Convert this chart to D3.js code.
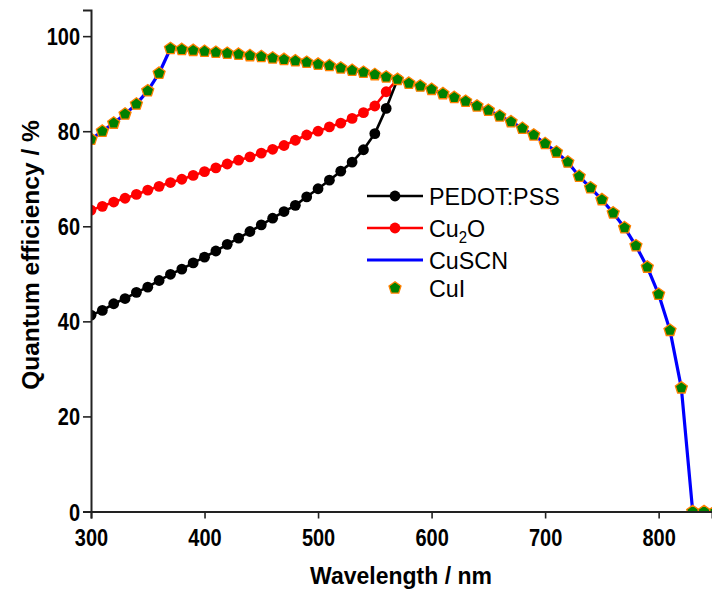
<!DOCTYPE html>
<html>
<head>
<meta charset="utf-8">
<script src="https://cdn.jsdelivr.net/npm/d3@7"></script>
<style>
  html, body { margin: 0; padding: 0; background: #fff; }
  svg { display: block; font-family: "Liberation Sans", Arial, sans-serif; }
</style>
</head>
<body>
<svg id="chart" width="712" height="590"></svg>
<script>
// Wavelengths (nm) for each dataset
const wlHTL = [300, 310, 320, 330, 340, 350, 360, 370, 380, 390, 400, 410, 420, 430,
  440, 450, 460, 470, 480, 490, 500, 510, 520, 530, 540, 550, 560, 570];
const wlFull = [300, 310, 320, 330, 340, 350, 360, 370, 380, 390, 400, 410, 420, 430,
  440, 450, 460, 470, 480, 490, 500, 510, 520, 530, 540, 550, 560, 570, 580, 590,
  600, 610, 620, 630, 640, 650, 660, 670, 680, 690, 700, 710, 720, 730, 740, 750,
  760, 770, 780, 790, 800, 810, 820, 830, 840, 850];

// Quantum efficiency (%) per hole-transport layer
const qePedot = [41.3, 42.3, 43.7, 44.8, 46.1, 47.2, 48.6, 49.9, 51.0, 52.3, 53.5, 54.8,
  56.2, 57.5, 58.9, 60.3, 61.7, 63.1, 64.4, 66.2, 67.9, 69.7, 71.6, 73.5, 76.1, 79.5,
  84.8, 90.9];
const qeCu2O = [63.4, 64.2, 65.1, 65.9, 66.7, 67.6, 68.4, 69.2, 69.9, 70.7, 71.5, 72.3,
  73.1, 73.9, 74.6, 75.4, 76.2, 77.0, 78.1, 79.2, 80.0, 80.9, 81.7, 82.7, 83.9, 85.3,
  88.3, 90.9];
const qeCuSCN = [78.3, 80.0, 81.7, 83.6, 85.7, 88.5, 92.2, 97.4, 97.2, 97.0, 96.8, 96.6,
  96.4, 96.2, 95.9, 95.7, 95.4, 95.1, 94.8, 94.5, 94.1, 93.8, 93.3, 92.8, 92.4, 91.9,
  91.4, 90.9, 90.1, 89.5, 88.8, 87.9, 87.1, 86.3, 85.3, 84.4, 83.2, 82.0, 80.6, 79.2,
  77.4, 75.6, 73.5, 70.5, 68.1, 65.6, 62.8, 59.7, 55.9, 51.4, 45.7, 38.1, 26.0, 0, 0, 0];
const qeCuI = qeCuSCN.slice();

const xTicks = [300, 400, 500, 600, 700, 800];
const yTicks = [0, 20, 40, 60, 80, 100];

const svg = d3.select("#chart");
const x = d3.scaleLinear().domain([300, 847]).range([91, 712]);
const y = d3.scaleLinear().domain([0, 105.5]).range([511.5, 10]);

const toPts = (xs, ys) => xs.map((w, i) => ({ w, v: ys[i] }));
const pedot = toPts(wlHTL, qePedot);
const cu2o = toPts(wlHTL, qeCu2O);
const cuscn = toPts(wlFull, qeCuSCN);
const cui = toPts(wlFull, qeCuI);

svg.append("clipPath").attr("id", "plotClip")
  .append("rect").attr("x", 91).attr("y", 0).attr("width", 640).attr("height", 511.5);

const plot = svg.append("g").attr("clip-path", "url(#plotClip)");
const line = d3.line().x(d => x(d.w)).y(d => y(d.v));

// Regular pentagon symbol
const pentagon = {
  draw(ctx, size) {
    const r = Math.sqrt(size / 2.378);
    for (let k = 0; k < 5; k++) {
      const a = -Math.PI / 2 + k * 2 * Math.PI / 5;
      const px = r * Math.cos(a), py = r * Math.sin(a);
      if (k === 0) ctx.moveTo(px, py); else ctx.lineTo(px, py);
    }
    ctx.closePath();
  }
};
const pentPath = d3.symbol().type(pentagon).size(2.378 * 6.3 * 6.3)();

function drawLineDots(data, color) {
  plot.append("path").datum(data)
    .attr("fill", "none").attr("stroke", color).attr("stroke-width", 2.6)
    .attr("stroke-linejoin", "round").attr("d", line);
  plot.append("g").selectAll("circle").data(data).join("circle")
    .attr("cx", d => x(d.w)).attr("cy", d => y(d.v)).attr("r", 5.4)
    .attr("fill", color);
}

drawLineDots(cu2o, "#ff0000");
drawLineDots(pedot, "#000000");
plot.append("path").datum(cuscn)
  .attr("fill", "none").attr("stroke", "#0000ff").attr("stroke-width", 3.2)
  .attr("stroke-linejoin", "round").attr("d", line);
plot.append("g").selectAll("path").data(cui).join("path")
  .attr("d", pentPath)
  .attr("transform", d => `translate(${x(d.w)},${y(d.v)})`)
  .attr("fill", "#008000").attr("stroke", "#ff8000").attr("stroke-width", 1.3);

// Axes
const axisColor = "#222";
const xAxis = svg.append("g").attr("transform", "translate(0,511.5)")
  .call(d3.axisBottom(x).tickValues(xTicks).tickSize(7).tickFormat(d3.format("d")));
const yAxis = svg.append("g").attr("transform", "translate(91,0)")
  .call(d3.axisLeft(y).tickValues(yTicks).tickSize(8).tickFormat(d3.format("d")));
[xAxis, yAxis].forEach(g => {
  g.select(".domain").attr("stroke", axisColor).attr("stroke-width", 2);
  g.selectAll(".tick line").attr("stroke", axisColor).attr("stroke-width", 1.6);
  g.selectAll(".tick text").attr("fill", "#000")
    .attr("font-family", "Liberation Sans, Arial, sans-serif")
    .attr("font-size", 20).attr("font-weight", "bold")
    .attr("x", 0).attr("y", 0).attr("dy", null);
});
// Tall, slightly condensed tick numerals
xAxis.selectAll(".tick text").attr("transform", "translate(0,34.5) scale(1,1.2)");
yAxis.selectAll(".tick text").attr("transform", "translate(-11,8.5) scale(1,1.2)");

// Axis titles
svg.append("text").attr("transform", "translate(401,584) scale(1,1.08)")
  .attr("text-anchor", "middle")
  .attr("font-size", 23).attr("font-weight", "bold").text("Wavelength / nm");
svg.append("text").attr("transform", "translate(38.5,255) rotate(-90)")
  .attr("text-anchor", "middle").attr("font-size", 24.5).attr("font-weight", "bold")
  .text("Quantum efficiency / %");

// Legend
const legend = svg.append("g");
const legendRows = [
  { label: "PEDOT:PSS", color: "#000000", kind: "linedot" },
  { label: "Cu2O", color: "#ff0000", kind: "linedot" },
  { label: "CuSCN", color: "#0000ff", kind: "line" },
  { label: "CuI", color: "#008000", kind: "pent" }
];
const legendY = [196, 228, 260, 288];
legendRows.forEach((row, i) => {
  const g = legend.append("g").attr("transform", `translate(0,${legendY[i]})`);
  if (row.kind !== "pent") {
    g.append("line").attr("x1", 367).attr("x2", 423).attr("y1", 0).attr("y2", 0)
      .attr("stroke", row.color).attr("stroke-width", row.kind === "line" ? 3.2 : 2.6);
  }
  if (row.kind === "linedot") {
    g.append("circle").attr("cx", 395).attr("cy", 0).attr("r", 5.4).attr("fill", row.color);
  }
  if (row.kind === "pent") {
    g.append("path").attr("d", pentPath).attr("transform", "translate(395,0)")
      .attr("fill", "#008000").attr("stroke", "#ff8000").attr("stroke-width", 1.3);
  }
  const t = g.append("text").attr("transform", "translate(429,8.5) scale(1,1.06)")
    .attr("font-size", 23.3);
  if (row.label === "Cu2O") {
    t.append("tspan").text("Cu");
    t.append("tspan").attr("font-size", 15).attr("dy", 6).text("2");
    t.append("tspan").attr("dy", -6).text("O");
  } else {
    t.text(row.label);
  }
});
</script>
</body>
</html>
